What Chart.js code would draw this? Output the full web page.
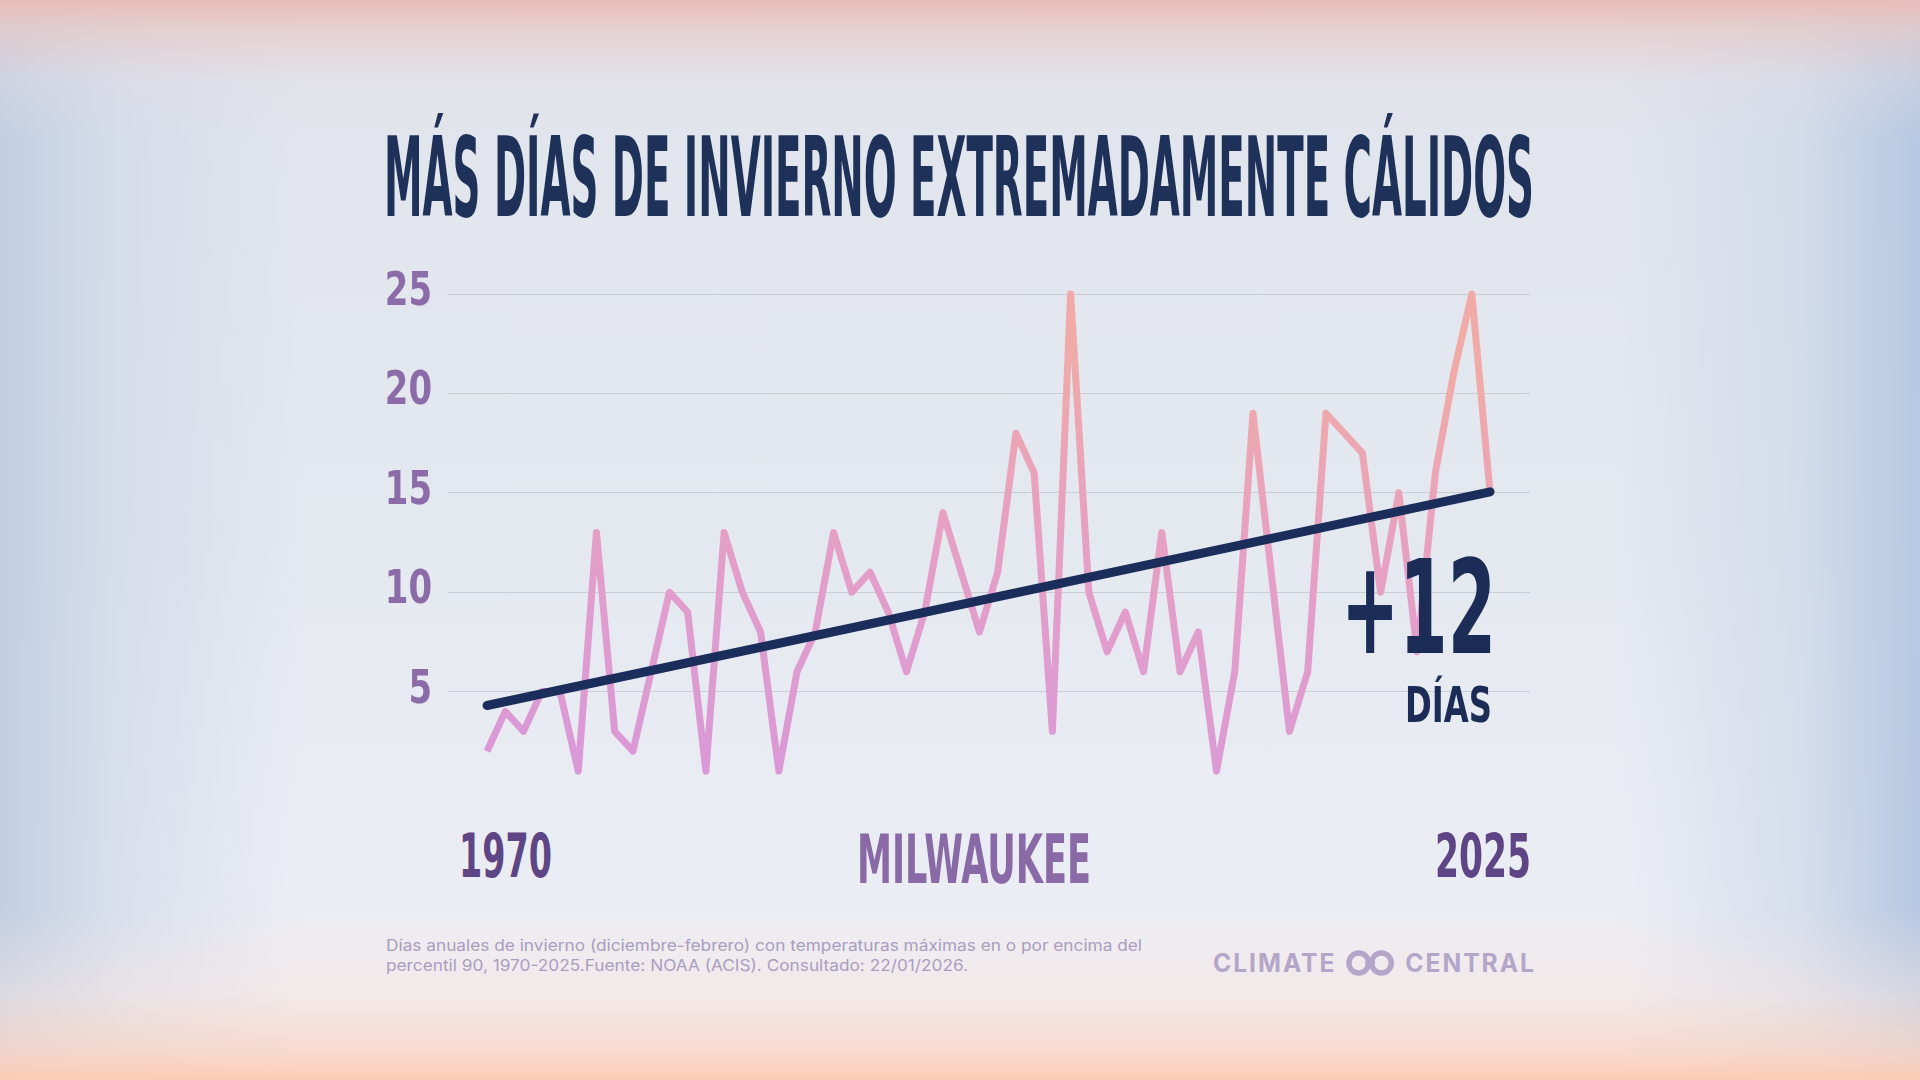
<!DOCTYPE html>
<html lang="es">
<head>
<meta charset="utf-8">
<title>Más días de invierno extremadamente cálidos</title>
<script src="https://cdn.jsdelivr.net/npm/chart.js@4.4.0/dist/chart.umd.min.js"></script>
<style>
  html, body { margin: 0; padding: 0; }
  body {
    width: 1920px; height: 1080px; overflow: hidden; position: relative;
    background:
      linear-gradient(180deg, rgba(233,189,184,1) 0px, rgba(231,203,201,0.75) 30px, rgba(228,220,226,0.35) 80px, rgba(226,230,238,0) 140px),
      linear-gradient(0deg, rgba(252,204,182,1) 0px, rgba(250,214,198,0.8) 30px, rgba(246,228,224,0.5) 85px, rgba(240,238,243,0) 170px),
      linear-gradient(90deg, rgba(194,207,226,1) 0px, rgba(205,215,232,0.6) 120px, rgba(226,231,240,0) 300px, rgba(226,231,240,0) 1620px, rgba(200,213,232,0.6) 1800px, rgba(182,200,226,1) 1920px),
      linear-gradient(180deg, #e1e4ec 0%, #e4e8ef 50%, #ebedf4 80%, #f1eff3 100%);
  }
  .cond { font-family: "Liberation Sans Narrow", "DejaVu Sans Condensed", Roboto, sans-serif; font-weight: 700; }
  .txt { position: absolute; white-space: nowrap; line-height: 1; transform-origin: left top; z-index: 2; }
  #chart-wrap { position: absolute; left: 370px; top: 270px; width: 1170px; height: 530px; z-index: 1; }
  #note { font-family: Inter, "Noto Sans", sans-serif; font-size: 16px; line-height: 20px; color: #a99dc0; }
  .logo { font-family: Inter, "Noto Sans", sans-serif; font-weight: 700; font-size: 25px; letter-spacing: 2px; color: #b3a6c9; }
</style>
</head>
<body>

<div id="title" class="txt cond" style="left:384px; top:123px; font-size:110px; color:#1e3159;" data-w="1150">MÁS DÍAS DE INVIERNO EXTREMADAMENTE CÁLIDOS</div>

<div id="chart-wrap"><canvas id="chart"></canvas></div>

<div id="lbl-start" class="txt cond" style="left:459px; top:825px; font-size:61px; color:#5e4585;" data-w="93"></div>
<div id="lbl-city"  class="txt cond" style="left:857px; top:826px; font-size:68px; color:#8a6aa6;" data-w="234"></div>
<div id="lbl-end"   class="txt cond" style="left:1435px; top:825px; font-size:61px; color:#5e4585;" data-w="96"></div>

<div id="delta"     class="txt cond" style="left:1341px; top:543px; font-size:130px; color:#1b2d57;" data-w="155"></div>
<div id="delta-sub" class="txt cond" style="left:1405px; top:681px; font-size:49px; color:#1b2d57;" data-w="87"></div>

<div id="note" class="txt" style="left:386px; top:935px;" data-w="756">
  <div>Días anuales de invierno (diciembre-febrero) con temperaturas máximas en o por encima del</div>
  <div>percentil 90, 1970-2025.Fuente: NOAA (ACIS). Consultado: 22/01/2026.</div>
</div>

<div id="logo" class="txt logo" style="left:1213px; top:950px; display:flex; align-items:center;" data-w="323">
  <span>CLIMATE</span>
  <svg width="54" height="26" viewBox="0 0 54 26" style="margin:0 8px 0 8px;">
    <circle cx="15" cy="13" r="10" fill="none" stroke="#b3a6c9" stroke-width="5.5"/>
    <circle cx="38" cy="13" r="10" fill="none" stroke="#b3a6c9" stroke-width="5.5"/>
    <circle cx="26.5" cy="13" r="5" fill="#b3a6c9"/>
  </svg>
  <span>CENTRAL</span>
</div>

<script>
// ---- Data ----
const years = [
  1970, 1971, 1972, 1973, 1974, 1975, 1976, 1977, 1978, 1979,
  1980, 1981, 1982, 1983, 1984, 1985, 1986, 1987, 1988, 1989,
  1990, 1991, 1992, 1993, 1994, 1995, 1996, 1997, 1998, 1999,
  2000, 2001, 2002, 2003, 2004, 2005, 2006, 2007, 2008, 2009,
  2010, 2011, 2012, 2013, 2014, 2015, 2016, 2017, 2018, 2019,
  2020, 2021, 2022, 2023, 2024, 2025
];
const warmDays = [
   2,  4,  3,  5,  5,  1, 13,  3,  2,  6,
  10,  9,  1, 13, 10,  8,  1,  6,  8, 13,
  10, 11,  9,  6,  9, 14, 11,  8, 11, 18,
  16,  3, 25, 10,  7,  9,  6, 13,  6,  8,
   1,  6, 19, 11,  3,  6, 19, 18, 17, 10,
  15,  7, 16, 21, 25, 15
];
const trendYears  = [1970, 2025];
const trendValues = [4.3, 15.05];
const yTickValues = [5, 10, 15, 20, 25];
const endLabels   = ['1970', '2025'];
const cityLabel   = 'MILWAUKEE';
const deltaLabel  = '+12';
const deltaUnit   = 'DÍAS';

document.getElementById('lbl-start').textContent = endLabels[0];
document.getElementById('lbl-end').textContent   = endLabels[1];
document.getElementById('lbl-city').textContent  = cityLabel;
document.getElementById('delta').textContent     = deltaLabel;
document.getElementById('delta-sub').textContent = deltaUnit;

// squeeze the text blocks to the widths seen in the reference
document.querySelectorAll('[data-w]').forEach(el => {
  el.style.display = el.id === 'logo' ? 'flex' : 'inline-block';
  const w = el.getBoundingClientRect().width;
  el.style.transform = `scaleX(${el.dataset.w / w})`;
});

// ---- Chart ----
const COND = '"Liberation Sans Narrow", "DejaVu Sans Condensed", Roboto, sans-serif';

// mostly vertical: lilac at the bottom, salmon at the top, a touch warmer to the right
function pinkGradient(context) {
  const { ctx, chartArea } = context.chart;
  if (!chartArea) return '#e2a0c8';
  const g = ctx.createLinearGradient(chartArea.left, chartArea.bottom, chartArea.left + 45, chartArea.top);
  g.addColorStop(0, '#d898d9');
  g.addColorStop(0.35, '#df9cd0');
  g.addColorStop(0.7, '#e8a2bd');
  g.addColorStop(1, '#f0aba8');
  return g;
}

// y labels drawn a bit narrower than the fallback condensed font
const narrowTicks = {
  id: 'narrowTicks',
  afterDraw(chart) {
    const { ctx } = chart;
    const y = chart.scales.y;
    ctx.save();
    ctx.fillStyle = '#8b6ca8';
    ctx.font = `bold 46px ${COND}`;
    ctx.textAlign = 'right';
    ctx.textBaseline = 'middle';
    y.ticks.forEach(t => {
      ctx.save();
      ctx.translate(y.right - 16, y.getPixelForValue(t.value) - 1);
      ctx.scale(0.82, 1);
      ctx.fillText(String(t.value), 0, 0);
      ctx.restore();
    });
    ctx.restore();
  }
};

new Chart(document.getElementById('chart'), {
  type: 'line',
  data: {
    datasets: [
      {
        data: trendYears.map((x, i) => ({ x, y: trendValues[i] })),
        borderColor: '#1b2d5a',
        borderWidth: 9,
        borderCapStyle: 'round',
        pointRadius: 0,
        clip: false,
        order: 0
      },
      {
        data: years.map((x, i) => ({ x, y: warmDays[i] })),
        borderColor: pinkGradient,
        borderWidth: 7,
        borderJoinStyle: 'round',
        pointRadius: 0,
        tension: 0,
        clip: false,
        order: 1
      }
    ]
  },
  options: {
    responsive: true,
    maintainAspectRatio: false,
    animation: false,
    events: [],
    layout: { padding: { top: 24, bottom: 9, right: 10, left: 0 } },
    plugins: { legend: { display: false }, tooltip: { enabled: false } },
    scales: {
      x: { type: 'linear', min: 1967.86, max: 2027.19, display: false },
      y: {
        min: 0,
        max: 25,
        afterFit: axis => { axis.width = 78; },
        afterBuildTicks: axis => { axis.ticks = yTickValues.map(v => ({ value: v })); },
        border: { display: false },
        grid: { color: 'rgba(178,183,196,0.55)', lineWidth: 1, drawTicks: false, tickLength: 0 },
        ticks: { display: false }
      }
    }
  },
  plugins: [narrowTicks]
});
</script>
</body>
</html>
